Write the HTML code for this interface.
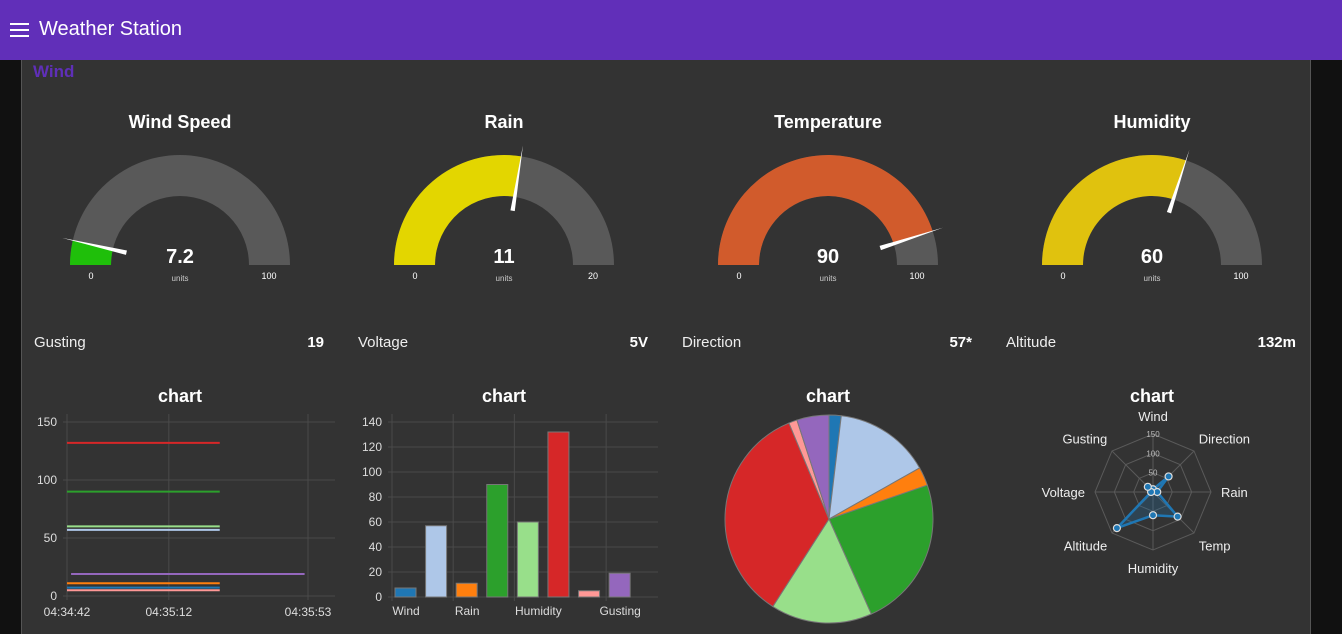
<!DOCTYPE html>
<html><head><meta charset="utf-8">
<style>
*{margin:0;padding:0;box-sizing:border-box}
body{width:1342px;height:634px;background:#111;font-family:"Liberation Sans",sans-serif;overflow:hidden;position:relative;color:#eee}
#hdr{position:absolute;left:0;top:0;width:1342px;height:60px;background:#612fb9}
#hdr .t{position:absolute;left:39px;top:18px;font-size:20px;color:#fff}
#menu{position:absolute;left:10px;top:23px;width:19px;height:14px;border-top:2px solid #fff;border-bottom:2px solid #fff}
#menu:after{content:"";position:absolute;left:0;top:4px;width:19px;height:2px;background:#fff}
#panel{position:absolute;left:21px;top:60px;width:1290px;height:574px;background:#333;border-left:1px solid #555;border-right:1px solid #555}
#grp{position:absolute;left:33px;top:62px;font-size:17px;color:#5f2fb8;font-weight:bold}
.txt{position:absolute;font-size:15px;color:#eee}
.val{position:absolute;font-size:15px;font-weight:bold;color:#fff;text-align:right}
svg{position:absolute;left:0;top:0}
</style></head><body>
<div id="hdr"><div id="menu"></div><div class="t">Weather Station</div></div>
<div id="panel"></div>
<div id="grp">Wind</div>
<div class="txt" style="left:34px;top:334px">Gusting</div>
<div class="val" style="left:250px;width:74px;top:334px">19</div>
<div class="txt" style="left:358px;top:334px">Voltage</div>
<div class="val" style="left:574px;width:74px;top:334px">5V</div>
<div class="txt" style="left:682px;top:334px">Direction</div>
<div class="val" style="left:898px;width:74px;top:334px">57*</div>
<div class="txt" style="left:1006px;top:334px">Altitude</div>
<div class="val" style="left:1222px;width:74px;top:334px">132m</div>
<svg id="s" width="1342" height="634"></svg>
<script>
const gaugeTitles=["Wind Speed","Rain","Temperature","Humidity"];
const gaugeValues=[7.2,11,90,60];
const gaugeMax=[100,20,100,100];
const gaugeLabels=["7.2","11","90","60"];
const gaugeColors=["#1fbf0a","#e3d600","#d15b2c","#e0c20e"];
const cats=["Wind","Direction","Rain","Temp","Humidity","Altitude","Voltage","Gusting"];
const values=[7.2,57,11,90,60,132,5,19];
const colors=["#1f77b4","#aec7e8","#ff7f0e","#2ca02c","#98df8a","#d62728","#ff9896","#9467bd"];
const lineStart=[0,0,0,0,0,0,0,1.2];
const lineEnd=[45,45,45,45,45,45,45,70];
const lineTickSecs=[0,30,71];
const lineTickLabels=["04:34:42","04:35:12","04:35:53"];
const lineYTicks=[0,50,100,150];
const barYTicks=[0,20,40,60,80,100,120,140];
const radarTicks=[50,100,150];

const S=document.getElementById('s');const NS="http://www.w3.org/2000/svg";
function mk(t,a,txt){const e=document.createElementNS(NS,t);for(const k in a)e.setAttribute(k,a[k]);if(txt!==undefined)e.textContent=txt;S.appendChild(e);return e;}
function pol(cx,cy,r,a){return [cx+r*Math.cos(a),cy+r*Math.sin(a)];}
// gauges
gaugeTitles.forEach((t,i)=>{
 const cx=180+324*i,cy=265,R=110,r=69;
 let e=mk('text',{x:cx,y:128,'text-anchor':'middle','font-size':18,fill:'#fff','font-weight':'bold'},t);
 
 const arc=(a0,a1,col,nm)=>{const p0=pol(cx,cy,R,a0),p1=pol(cx,cy,R,a1),q1=pol(cx,cy,r,a1),q0=pol(cx,cy,r,a0);
  const g=mk('path',{d:`M${p0}A${R},${R} 0 0 1 ${p1}L${q1}A${r},${r} 0 0 0 ${q0}Z`,fill:col});
  };
 const f=gaugeValues[i]/gaugeMax[i];const av=Math.PI+Math.PI*f;
 arc(Math.PI,2*Math.PI,'#595959','gauge-track');
 arc(Math.PI,av,gaugeColors[i],'gauge-fill');
 const b1=pol(cx,cy,55,av-0.04),b2=pol(cx,cy,55,av+0.04),tip=pol(cx,cy,121,av);
 e=mk('path',{d:`M${b1}L${tip}L${b2}Z`,fill:'#fff'});
 
 e=mk('text',{x:cx,y:263,'text-anchor':'middle','font-size':20,'font-weight':'bold',fill:'#fff'},gaugeLabels[i]);
 
 e=mk('text',{x:cx,y:281,'text-anchor':'middle','font-size':8,fill:'#ccc'},'units');
 
 e=mk('text',{x:cx-89,y:279,'text-anchor':'middle','font-size':9,fill:'#fff'},'0');
 
 e=mk('text',{x:cx+89,y:279,'text-anchor':'middle','font-size':9,fill:'#fff'},String(gaugeMax[i]));
 
});
// chart titles
[180,504,828,1152].forEach(x=>{const e=mk('text',{x:x,y:402,'text-anchor':'middle','font-size':18,'font-weight':'bold',fill:'#fff'},'chart');
 });
// line chart
{const x0=67,x1=335,xs=s=>x0+s*(241/71),ys=v=>596-v*(174/150);
 lineYTicks.forEach(v=>{let e=mk('line',{x1:x0-4,x2:x1,y1:ys(v),y2:ys(v),stroke:'#4a4a4a'});
  e=mk('text',{x:57,y:ys(v)+4,'text-anchor':'end','font-size':12,fill:'#ddd'},String(v));});
 lineTickSecs.forEach((s,i)=>{let e=mk('line',{x1:xs(s),x2:xs(s),y1:414,y2:600,stroke:'#4a4a4a'});
  e=mk('text',{x:xs(s),y:616,'text-anchor':'middle','font-size':12,fill:'#ddd'},lineTickLabels[i]);});
 values.forEach((v,i)=>{const e=mk('line',{x1:xs(lineStart[i]),x2:xs(lineEnd[i]),y1:ys(v),y2:ys(v),stroke:colors[i],'stroke-width':2});
  });
}
// bar chart
{const x0=392,x1=658,bw=(x1-x0)/8,ys=v=>597-v*(175/140);
 barYTicks.forEach(v=>{let e=mk('line',{x1:x0-4,x2:x1,y1:ys(v),y2:ys(v),stroke:'#4a4a4a'});
  e=mk('text',{x:382,y:ys(v)+4,'text-anchor':'end','font-size':12,fill:'#ddd'},String(v));});
 [0,2,4,7].forEach(k=>{const e=mk('line',{x1:x0+k*bw*0.92,x2:x0+k*bw*0.92,y1:414,y2:601,stroke:'#4a4a4a'});});
 values.forEach((v,i)=>{const x=x0+i*bw*0.92+3;const e=mk('rect',{x:x,y:ys(v),width:21,height:597-ys(v),fill:colors[i],stroke:'#777','stroke-width':1});
  });
 [0,2,4,7].forEach(i=>{const e=mk('text',{x:x0+i*bw*0.92+14+(i==4?10:0)+(i==7?0:0),y:615,'text-anchor':'middle','font-size':12,fill:'#ddd'},cats[i]);
  });
}
// pie
{const cx=829,cy=519,R=104;const tot=values.reduce((a,b)=>a+b,0);let a=-Math.PI/2;
 values.forEach((v,i)=>{const a1=a+2*Math.PI*v/tot;const p0=pol(cx,cy,R,a),p1=pol(cx,cy,R,a1);
  const e=mk('path',{d:`M${cx},${cy}L${p0}A${R},${R} 0 ${a1-a>Math.PI?1:0} 1 ${p1}Z`,fill:colors[i],stroke:'#777','stroke-width':1});
  a=a1;});
}
// radar
{const cx=1153,cy=492,R=58,mx=150,n=cats.length,ang=k=>-Math.PI/2+k*2*Math.PI/n;
 radarTicks.forEach(t=>{const pts=cats.map((c,k)=>pol(cx,cy,R*t/mx,ang(k)).join(',')).join(' ');
  const e=mk('polygon',{points:pts,fill:'none',stroke:'#5a5a5a'});});
 cats.forEach((c,k)=>{const p=pol(cx,cy,R,ang(k));let e=mk('line',{x1:cx,y1:cy,x2:p[0],y2:p[1],stroke:'#5a5a5a'});
  const l=pol(cx,cy,R+18,ang(k));const an=Math.abs(l[0]-cx)<5?'middle':(l[0]>cx?'start':'end');
  e=mk('text',{x:l[0]+(an=='start'?-8:an=='end'?8:0),y:l[1]+5,'text-anchor':an,'font-size':13,fill:'#eee'},c);});
 radarTicks.forEach(t=>{const e=mk('text',{x:cx,y:cy-R*t/mx+3,'text-anchor':'middle','font-size':8,fill:'#bbb'},String(t));});
 const pts=values.map((v,k)=>pol(cx,cy,R*v/mx,ang(k)));
 let e=mk('polygon',{points:pts.map(p=>p.join(',')).join(' '),fill:'rgba(31,119,180,0.25)',stroke:'#1f77b4','stroke-width':2.5});
 
 pts.forEach((p,k)=>{const e=mk('circle',{cx:p[0],cy:p[1],r:3.5,fill:'#1f77b4',stroke:'#ddd','stroke-width':1.2});
  });
}
</script>
</body></html>
